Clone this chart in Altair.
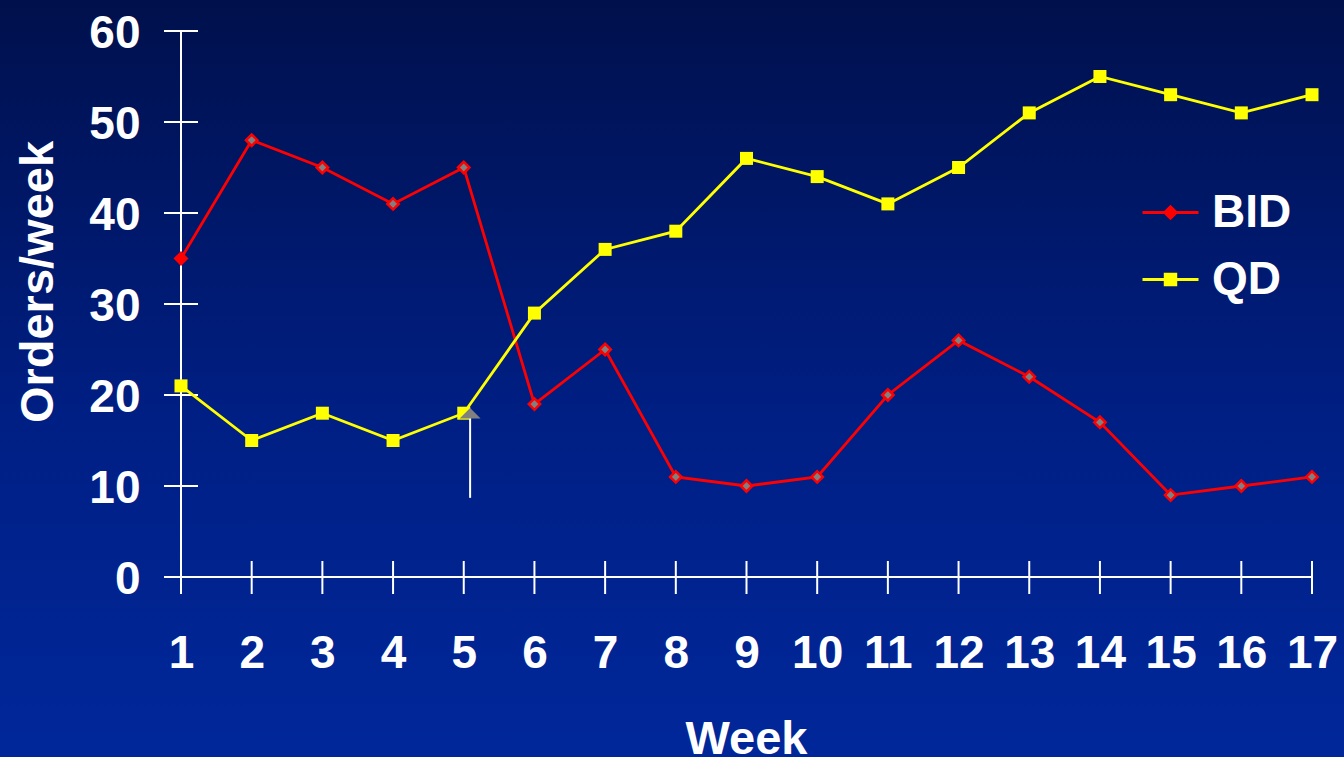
import altair as alt
import pandas as pd

# Weekly order counts per dosing regimen
weeks = list(range(1, 18))
bid_orders = [35, 48, 45, 41, 45, 19, 25, 11, 10, 11, 20, 26, 22, 17, 9, 10, 11]
qd_orders = [21, 15, 18, 15, 18, 29, 36, 38, 46, 44, 41, 45, 51, 55, 53, 51, 53]
series_names = ["BID", "QD"]
y_tick_values = [0, 10, 20, 30, 40, 50, 60]

# Marker showing the switch-over point
marker_week = [5.09]
marker_top = [18]
marker_bottom = [8.7]

RED = "#ff0000"
YELLOW = "#ffff00"
GREY = "#808080"
WHITE = "#ffffff"
FONT = "Liberation Sans"

W, H = 1131, 546
PAD = {"left": 181, "top": 31, "right": 32, "bottom": 180}

bid_df = pd.DataFrame({"week": weeks, "orders": bid_orders})
qd_df = pd.DataFrame({"week": weeks, "orders": qd_orders})
ytick_df = pd.DataFrame({"orders": y_tick_values})
xtick_df = pd.DataFrame({"week": weeks})
marker_df = pd.DataFrame({"week": marker_week, "orders": marker_top, "orders_end": marker_bottom})
legend_df = pd.DataFrame({"week": [1, 1], "orders": [0, 0], "series": series_names})

# Axes carry labels and titles only; lines and ticks are drawn as rules below the markers
x_axis = alt.Axis(
    values=weeks, format="d", ticks=False, tickSize=0, grid=False, domain=False, zindex=1,
    labelColor=WHITE, labelFont=FONT, labelFontSize=46, labelFontWeight="bold",
    labelBaseline="alphabetic", labelPadding=90, labelFlush=False, labelOverlap=False,
    title="Week", titleColor=WHITE, titleFont=FONT, titleFontSize=47, titleFontWeight="bold",
    titleX=565, titleY=176, titleBaseline="alphabetic", titleAlign="center",
)
y_axis = alt.Axis(
    values=y_tick_values, ticks=False, tickSize=0, grid=False, domain=False, zindex=1,
    labelColor=WHITE, labelFont=FONT, labelFontSize=46, labelFontWeight="bold",
    labelPadding=41, labelOffset=2,
    title="Orders/week", titleColor=WHITE, titleFont=FONT, titleFontSize=47, titleFontWeight="bold",
    titleAngle=270, titleX=-129, titleY=250.5, titleBaseline="alphabetic", titleAlign="center",
)

x_enc = alt.X("week:Q", scale=alt.Scale(domain=[1, 17], nice=False, zero=False), axis=x_axis)
y_enc = alt.Y("orders:Q", scale=alt.Scale(domain=[0, 60], nice=False), axis=y_axis)

# Navy gradient backdrop covering the whole canvas
backdrop = alt.Chart(alt.Data(values=[{}])).mark_rect(
    fill=alt.LinearGradient(
        gradient="linear", x1=0, x2=0, y1=0, y2=1,
        stops=[alt.GradientStop(color="#00104c", offset=0),
               alt.GradientStop(color="#001f84", offset=0.55),
               alt.GradientStop(color="#00279a", offset=1)],
    )
).encode(
    x=alt.value(-PAD["left"]), x2=alt.value(W + PAD["right"]),
    y=alt.value(-PAD["top"]), y2=alt.value(H + PAD["bottom"]),
)

# Axis lines
y_domain = alt.Chart(alt.Data(values=[{}])).mark_rule(color=WHITE, strokeWidth=2).encode(
    x=alt.value(0), y=alt.value(0), y2=alt.value(H)
)
x_domain = alt.Chart(alt.Data(values=[{}])).mark_rule(color=WHITE, strokeWidth=2).encode(
    x=alt.value(0), x2=alt.value(W), y=alt.value(H)
)

# Cross ticks on both axes
y_ticks = alt.Chart(ytick_df).mark_rule(color=WHITE, strokeWidth=2).encode(
    y=y_enc, x=alt.value(-17), x2=alt.value(17)
)
x_ticks = alt.Chart(xtick_df).mark_rule(color=WHITE, strokeWidth=2).encode(
    x=x_enc, y=alt.value(H - 16), y2=alt.value(H + 17)
)

bid_line = alt.Chart(bid_df).mark_line(color=RED, strokeWidth=2.8).encode(x=x_enc, y=y_enc)
qd_line = alt.Chart(qd_df).mark_line(color=YELLOW, strokeWidth=2.8).encode(x=x_enc, y=y_enc)

qd_pts = alt.Chart(qd_df).mark_square(size=169, color=YELLOW, opacity=1).encode(x=x_enc, y=y_enc)
bid_pts = alt.Chart(bid_df).mark_point(
    shape="diamond", filled=True, size=130, stroke=RED, strokeWidth=2.5, opacity=1
).encode(
    x=x_enc, y=y_enc,
    fill=alt.condition("datum.week == 1", alt.value(RED), alt.value(GREY)),
)

marker_rule = alt.Chart(marker_df).mark_rule(color=WHITE, strokeWidth=2).encode(
    x=x_enc, y=y_enc, y2="orders_end:Q"
)
marker_tri = alt.Chart(marker_df).mark_point(
    shape="M0,-0.5L1,0.5L-1,0.5Z", filled=True, size=441, color=GREY, opacity=1
).encode(x=x_enc, y=y_enc)

# Legend entries: line with marker, drawn only in the legend
legend_shapes = [
    "M-1,0H1M0,-0.21L0.21,0L0,0.21L-0.21,0Z",
    "M-1,0H1M-0.19,-0.19H0.19V0.19H-0.19Z",
]
leg = alt.Legend(
    title=None, orient="none", legendX=960, legendY=152, padding=0,
    symbolSize=3136, symbolStrokeWidth=2.8, symbolOpacity=1,
    labelColor=WHITE, labelFont=FONT, labelFontSize=46, labelFontWeight="bold",
    labelOffset=12, rowPadding=14,
)
legend_layer = alt.Chart(legend_df).transform_filter("false").mark_point(
    filled=True, opacity=1, strokeWidth=2.8
).encode(
    x=x_enc, y=y_enc,
    fill=alt.Fill("series:N", scale=alt.Scale(domain=series_names, range=[RED, YELLOW]), legend=leg),
    stroke=alt.Stroke("series:N", scale=alt.Scale(domain=series_names, range=[RED, YELLOW]), legend=leg),
    shape=alt.Shape("series:N", scale=alt.Scale(domain=series_names, range=legend_shapes), legend=leg),
)

chart = alt.layer(
    backdrop, y_domain, x_domain, y_ticks, x_ticks, bid_line, qd_line, bid_pts, qd_pts,
    marker_rule, marker_tri, legend_layer,
).properties(
    width=W, height=H,
    autosize=alt.AutoSizeParams(type="none"),
    padding=PAD,
    background="#00279a",
).configure_view(stroke=None).configure(font=FONT)

chart.save("out.html", embed_options={"renderer": "svg", "actions": False})
